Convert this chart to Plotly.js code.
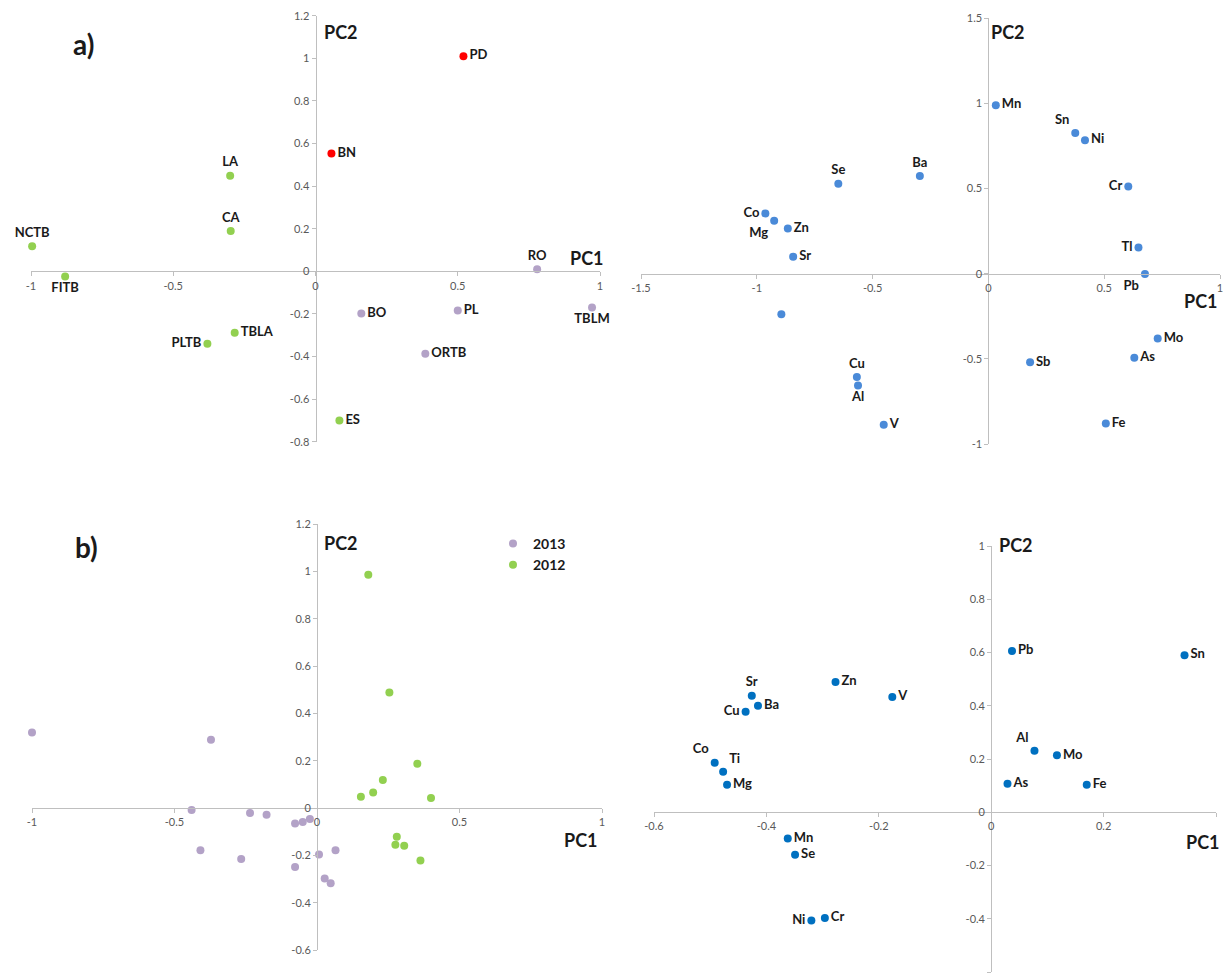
<!DOCTYPE html>
<html><head><meta charset="utf-8">
<script src="https://cdn.plot.ly/plotly-3.0.1.min.js"></script>
<style>html,body{margin:0;padding:0;background:#fff}#chart{width:1224px;height:975px}</style>
</head><body><div id="chart"></div>
<script>
// ---------- DATA ----------
// Panel a) left: sample scores
const aRedNames = ['PD', 'BN'];
const aRedX = [0.52, 0.056];
const aRedY = [1.01, 0.553];
const aGreenNames = ['LA', 'CA', 'NCTB', 'FITB', 'TBLA', 'PLTB', 'ES'];
const aGreenX = [-0.30, -0.298, -0.996, -0.88, -0.284, -0.38, 0.084];
const aGreenY = [0.449, 0.189, 0.118, -0.024, -0.288, -0.34, -0.70];
const aPurpleNames = ['RO', 'TBLM', 'PL', 'BO', 'ORTB'];
const aPurpleX = [0.779, 0.972, 0.50, 0.161, 0.386];
const aPurpleY = [0.01, -0.17, -0.184, -0.198, -0.387];

// Panel a) right: element loadings
const bNames = ['Mn', 'Sn', 'Ni', 'Cr', 'Tl', 'Pb', 'Mo', 'As', 'Sb', 'Fe', 'V', 'Al', 'Cu', '', 'Sr', 'Zn', 'Mg', 'Co', 'Se', 'Ba'];
const bX = [0.032, 0.375, 0.417, 0.604, 0.648, 0.676, 0.731, 0.63, 0.18, 0.507, -0.452, -0.563, -0.568, -0.894, -0.843, -0.866, -0.925, -0.963, -0.648, -0.296];
const bY = [0.99, 0.826, 0.784, 0.512, 0.154, -0.002, -0.381, -0.494, -0.52, -0.88, -0.887, -0.656, -0.606, -0.238, 0.10, 0.266, 0.311, 0.354, 0.529, 0.574];

// Panel b) left: sample scores by year
const c2013X = [-1.0, -0.372, -0.44, -0.235, -0.177, -0.077, -0.05, -0.025, -0.409, -0.266, -0.077, 0.007, 0.065, 0.027, 0.048];
const c2013Y = [0.319, 0.288, -0.008, -0.021, -0.028, -0.065, -0.059, -0.047, -0.179, -0.215, -0.249, -0.197, -0.179, -0.298, -0.318];
const c2012X = [0.18, 0.254, 0.352, 0.231, 0.197, 0.154, 0.40, 0.28, 0.275, 0.306, 0.363];
const c2012Y = [0.986, 0.488, 0.187, 0.118, 0.066, 0.048, 0.042, -0.122, -0.155, -0.159, -0.222];
const seriesNames = ['2013', '2012'];

// Panel b) right: element loadings
const dNames = ['Pb', 'Sn', 'Zn', 'V', 'Sr', 'Ba', 'Cu', 'Co', 'Ti', 'Mg', 'Al', 'Mo', 'As', 'Fe', 'Mn', 'Se', 'Ni', 'Cr'];
const dX = [0.037, 0.344, -0.277, -0.176, -0.426, -0.415, -0.437, -0.492, -0.477, -0.470, 0.077, 0.117, 0.029, 0.170, -0.362, -0.349, -0.32, -0.296];
const dY = [0.606, 0.59, 0.489, 0.433, 0.438, 0.40, 0.377, 0.186, 0.152, 0.103, 0.231, 0.214, 0.107, 0.103, -0.099, -0.16, -0.407, -0.397];

// Tick values / labels
const aXTicks = [-1, -0.5, 0, 0.5, 1];
const aXText = ['-1', '-0.5', '0', '0.5', '1'];
const aYTicks = [-0.8, -0.6, -0.4, -0.2, 0, 0.2, 0.4, 0.6, 0.8, 1, 1.2];
const aYText = ['-0.8', '-0.6', '-0.4', '-0.2', '0', '0.2', '0.4', '0.6', '0.8', '1', '1.2'];
const bXTicks = [-1.5, -1, -0.5, 0, 0.5, 1];
const bXText = ['-1.5', '-1', '-0.5', '0', '0.5', '1'];
const bYTicks = [-1, -0.5, 0, 0.5, 1, 1.5];
const bYText = ['-1', '-0.5', '0', '0.5', '1', '1.5'];
const cXTicks = [-1, -0.5, 0, 0.5, 1];
const cXText = ['-1', '-0.5', '0', '0.5', '1'];
const cYTicks = [-0.6, -0.4, -0.2, 0, 0.2, 0.4, 0.6, 0.8, 1, 1.2];
const cYText = ['-0.6', '-0.4', '-0.2', '0', '0.2', '0.4', '0.6', '0.8', '1', '1.2'];
const dXTicks = [-0.6, -0.4, -0.2, 0, 0.2, 0.4];
const dXText = ['-0.6', '-0.4', '-0.2', '0', '0.2', '0.4'];
const dYTicks = [-0.6, -0.4, -0.2, 0, 0.2, 0.4, 0.6, 0.8, 1];
const dYText = ['-0.6', '-0.4', '-0.2', '0', '0.2', '0.4', '0.6', '0.8', '1'];

// ---------- LABEL PLACEMENT (style) ----------
const aRedPos = ['middle right', 'middle right'];
const aGreenPos = ['top center', 'top center', 'top center', 'bottom center', 'middle right', 'middle left', 'middle right'];
const aPurplePos = ['top center', 'bottom center', 'middle right', 'middle right', 'middle right'];
const bPos = ['middle right', 'top left', 'middle right', 'middle left', 'middle left', 'bottom left', 'middle right', 'middle right', 'middle right', 'middle right', 'middle right', 'bottom center', 'top center', 'middle right', 'middle right', 'middle right', 'bottom left', 'middle left', 'top center', 'top center'];
const dPos = ['middle right', 'middle right', 'middle right', 'middle right', 'top center', 'middle right', 'middle left', 'top left', 'top right', 'middle right', 'top left', 'middle right', 'middle right', 'middle right', 'middle right', 'middle right', 'middle left', 'middle right'];

// ---------- LAYOUT HELPERS ----------
const W = 1224, H = 975;
const FONT = 'Lato, "Open Sans", sans-serif';
const GREEN = '#92D050', RED = '#FF0000', PURPLE = '#B3A2C7', BLUE1 = '#4A8AD8', BLUE2 = '#0070C0';
const labelFont = {family: FONT, size: 13, color: '#1a1a1a', weight: 'bold'};

// panel boxes in pixels: [left, right, top, bottom], ranges
const panels = {
  a: {px: [31, 600, 15.7, 441.7], xr: [-1, 1], yr: [-0.8, 1.2], xt: [aXTicks, aXText], yt: [aYTicks, aYText]},
  b: {px: [641, 1220, 18.3, 444], xr: [-1.5, 1], yr: [-1, 1.5], xt: [bXTicks, bXText], yt: [bYTicks, bYText]},
  c: {px: [32, 602, 524, 950], xr: [-1, 1], yr: [-0.6, 1.2], xt: [cXTicks, cXText], yt: [cYTicks, cYText]},
  d: {px: [654, 1216, 546, 972], xr: [-0.6, 0.4], yr: [-0.6, 1], xt: [dXTicks, dXText], yt: [dYTicks, dYText]}
};

function axes(p) {
  const [l, r, t, b] = p.px;
  const xd = [l / W, r / W];
  const yd = [1 - b / H, 1 - t / H];
  const xZero = xd[0] + (0 - p.xr[0]) / (p.xr[1] - p.xr[0]) * (xd[1] - xd[0]);
  const yZero = yd[0] + (0 - p.yr[0]) / (p.yr[1] - p.yr[0]) * (yd[1] - yd[0]);
  const common = {
    showgrid: false, zeroline: false, showline: true, linecolor: '#BFBFBF', linewidth: 1,
    ticks: 'outside', ticklen: 4, tickcolor: '#BFBFBF', tickwidth: 1,
    tickfont: {family: FONT, size: 11, color: '#595959'},
    tickmode: 'array', fixedrange: true, anchor: 'free'
  };
  return {
    x: Object.assign({}, common, {domain: xd, range: p.xr, autorange: false, position: yZero, tickvals: p.xt[0], ticktext: p.xt[1]}),
    y: Object.assign({}, common, {domain: yd, range: p.yr, autorange: false, position: xZero, tickvals: p.yt[0], ticktext: p.yt[1]})
  };
}

const A = axes(panels.a), B = axes(panels.b), C = axes(panels.c), D = axes(panels.d);

function pts(x, y, names, pos, color, xa, ya, extra) {
  return Object.assign({
    type: 'scatter', mode: names ? 'markers+text' : 'markers', x: x, y: y,
    text: names || undefined, textposition: pos || undefined, textfont: labelFont,
    marker: {color: color, size: 8, line: {width: 0}},
    xaxis: xa, yaxis: ya, cliponaxis: false, showlegend: false, hoverinfo: 'skip'
  }, extra || {});
}

const data = [
  pts(aGreenX, aGreenY, aGreenNames, aGreenPos, GREEN, 'x', 'y'),
  pts(aPurpleX, aPurpleY, aPurpleNames, aPurplePos, PURPLE, 'x', 'y'),
  pts(aRedX, aRedY, aRedNames, aRedPos, RED, 'x', 'y'),
  pts(bX, bY, bNames, bPos, BLUE1, 'x2', 'y2'),
  pts(c2013X, c2013Y, null, null, PURPLE, 'x3', 'y3', {name: seriesNames[0], showlegend: true}),
  pts(c2012X, c2012Y, null, null, GREEN, 'x3', 'y3', {name: seriesNames[1], showlegend: true}),
  pts(dX, dY, dNames, dPos, BLUE2, 'x4', 'y4')
];

function ann(text, px, py, size) {
  return {text: text, x: px / W, y: 1 - py / H, xref: 'paper', yref: 'paper',
    xanchor: 'center', yanchor: 'middle', showarrow: false,
    font: {family: FONT, size: size, color: '#1a1a1a', weight: 'bold'}};
}

const layout = {
  width: W, height: H,
  margin: {l: 0, r: 0, t: 0, b: 0},
  paper_bgcolor: '#fff', plot_bgcolor: 'rgba(0,0,0,0)',
  font: {family: FONT},
  xaxis: A.x, yaxis: A.y,
  xaxis2: B.x, yaxis2: B.y,
  xaxis3: C.x, yaxis3: C.y,
  xaxis4: D.x, yaxis4: D.y,
  showlegend: true,
  legend: {x: 493 / W, y: 1 - 528 / H, xanchor: 'left', yanchor: 'top',
    font: {family: FONT, size: 14, color: '#1a1a1a', weight: 'bold'},
    bgcolor: 'rgba(0,0,0,0)', borderwidth: 0, tracegroupgap: 6, itemwidth: 30},
  annotations: [
    ann('a)', 83, 44, 28),
    ann('b)', 86, 547, 28),
    ann('PC2', 341, 32, 18), ann('PC1', 587, 258, 18),
    ann('PC2', 1008, 32, 18), ann('PC1', 1201, 301, 18),
    ann('PC2', 341, 543, 18), ann('PC1', 581, 840, 18),
    ann('PC2', 1016, 545, 18), ann('PC1', 1203, 842, 18)
  ]
};

Plotly.newPlot('chart', data, layout, {staticPlot: true, displayModeBar: false});
</script>
</body></html>
